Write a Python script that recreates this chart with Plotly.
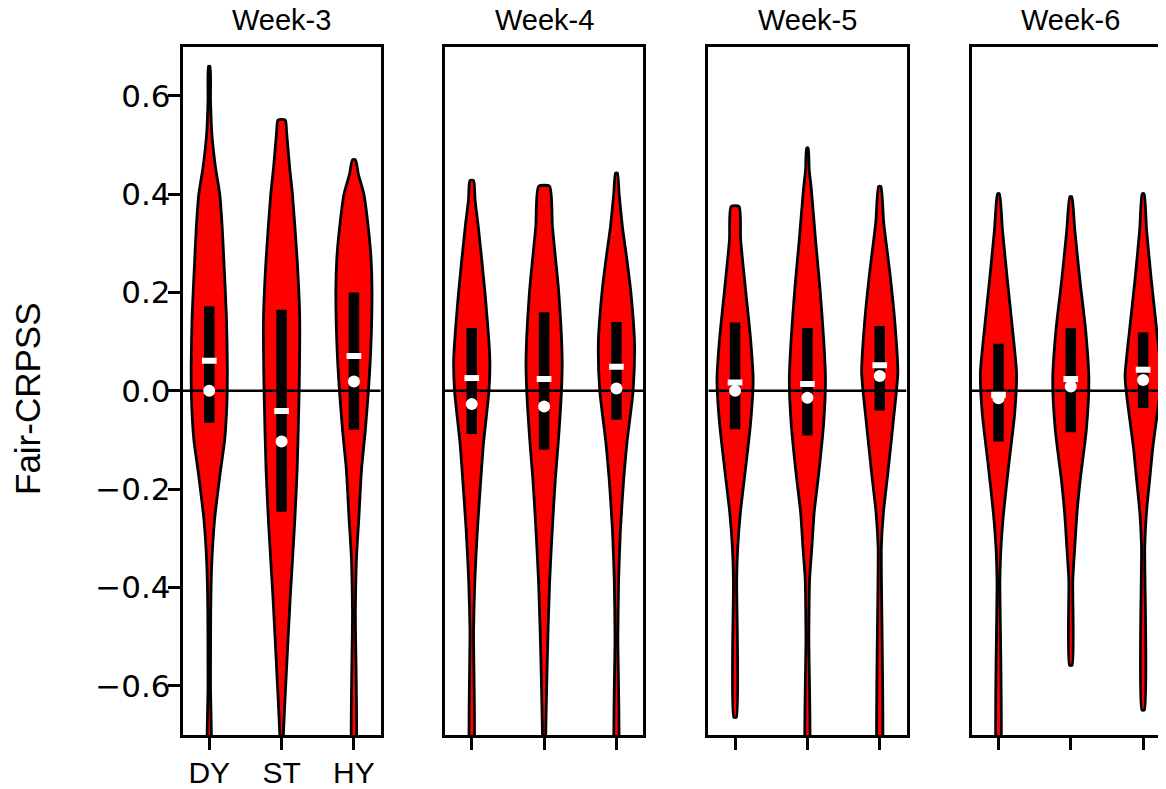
import plotly.graph_objects as go

# ---------------- data ----------------
WEEKS = ["Week-3", "Week-4", "Week-5", "Week-6"]
MODELS = ["DY", "ST", "HY"]
POSITIONS = [1, 2, 3]

Y_TICKS = [-0.6, -0.4, -0.2, 0.0, 0.2, 0.4, 0.6]
Y_TICK_TEXT = ["\u22120.6", "\u22120.4", "\u22120.2", "0.0", "0.2", "0.4", "0.6"]

# inter-quartile bar (upper / lower), mean and median, per week -> [DY, ST, HY]
Q3 = {
    "Week-3": [0.172, 0.165, 0.200],
    "Week-4": [0.128, 0.160, 0.140],
    "Week-5": [0.139, 0.128, 0.132],
    "Week-6": [0.096, 0.128, 0.119],
}
Q1 = {
    "Week-3": [-0.065, -0.246, -0.079],
    "Week-4": [-0.088, -0.120, -0.059],
    "Week-5": [-0.078, -0.091, -0.040],
    "Week-6": [-0.103, -0.084, -0.035],
}
MEAN = {
    "Week-3": [0.061, -0.041, 0.071],
    "Week-4": [0.026, 0.024, 0.049],
    "Week-5": [0.017, 0.014, 0.052],
    "Week-6": [-0.008, 0.024, 0.043],
}
MEDIAN = {
    "Week-3": [0.000, -0.103, 0.019],
    "Week-4": [-0.027, -0.032, 0.005],
    "Week-5": [0.000, -0.014, 0.030],
    "Week-6": [-0.015, 0.009, 0.022],
}

# violin outlines: value levels (top -> bottom) and relative density (max = 1)
W3_DY_Y = [0.66, 0.59, 0.525, 0.456, 0.4, 0.33, 0.27, 0.15, 0.05, -0.03, -0.1, -0.16, -0.26, -0.35, -0.45, -0.6, -0.8]
W3_DY_D = [0.04, 0.07, 0.14, 0.34, 0.58, 0.72, 0.80, 0.95, 1.00, 0.97, 0.85, 0.63, 0.30, 0.14, 0.08, 0.07, 0.07]
W3_ST_Y = [0.551, 0.525, 0.456, 0.4, 0.267, 0.15, 0.0, -0.16, -0.27, -0.425, -0.59, -0.7, -0.8]
W3_ST_D = [0.20, 0.28, 0.44, 0.60, 0.86, 1.00, 0.97, 0.86, 0.72, 0.47, 0.24, 0.10, 0.06]
W3_HY_Y = [0.47, 0.44, 0.4, 0.33, 0.267, 0.2, 0.083, 0.0, -0.08, -0.16, -0.26, -0.34, -0.45, -0.8]
W3_HY_D = [0.08, 0.25, 0.55, 0.80, 0.95, 1.00, 0.93, 0.80, 0.63, 0.42, 0.27, 0.14, 0.08, 0.07]

W4_DY_Y = [0.428, 0.389, 0.334, 0.2, 0.063, 0.0, -0.106, -0.18, -0.283, -0.385, -0.486, -0.8]
W4_DY_D = [0.10, 0.18, 0.36, 0.73, 1.00, 0.95, 0.65, 0.50, 0.31, 0.17, 0.10, 0.07]
W4_ST_Y = [0.416, 0.334, 0.2, 0.063, 0.0, -0.106, -0.18, -0.283, -0.385, -0.486, -0.59, -0.7, -0.8]
W4_ST_D = [0.30, 0.46, 0.81, 1.00, 0.96, 0.78, 0.62, 0.45, 0.31, 0.22, 0.15, 0.09, 0.07]
W4_HY_Y = [0.443, 0.4, 0.334, 0.267, 0.2, 0.097, 0.0, -0.106, -0.18, -0.283, -0.385, -0.5, -0.8]
W4_HY_D = [0.05, 0.15, 0.33, 0.58, 0.80, 1.00, 0.92, 0.58, 0.40, 0.22, 0.12, 0.08, 0.07]

W5_DY_Y = [0.375, 0.307, 0.206, 0.104, 0.022, -0.065, -0.167, -0.249, -0.317, -0.385, -0.664]
W5_DY_D = [0.22, 0.31, 0.58, 0.86, 1.00, 0.86, 0.55, 0.29, 0.15, 0.09, 0.07]
W5_ST_Y = [0.494, 0.45, 0.409, 0.307, 0.206, 0.104, 0.022, -0.065, -0.167, -0.249, -0.317, -0.385, -0.5, -0.8]
W5_ST_D = [0.04, 0.10, 0.22, 0.45, 0.70, 0.90, 1.00, 0.90, 0.63, 0.37, 0.25, 0.12, 0.08, 0.07]
W5_HY_Y = [0.416, 0.342, 0.24, 0.138, 0.037, -0.065, -0.167, -0.249, -0.317, -0.8]
W5_HY_D = [0.06, 0.22, 0.56, 0.84, 1.00, 0.74, 0.45, 0.20, 0.09, 0.07]

W6_DY_Y = [0.401, 0.328, 0.226, 0.124, 0.036, -0.045, -0.147, -0.249, -0.317, -0.385, -0.8]
W6_DY_D = [0.05, 0.22, 0.49, 0.78, 1.00, 0.90, 0.58, 0.28, 0.14, 0.08, 0.07]
W6_ST_Y = [0.395, 0.328, 0.226, 0.124, 0.022, -0.079, -0.181, -0.249, -0.317, -0.385, -0.558]
W6_ST_D = [0.05, 0.22, 0.50, 0.82, 1.00, 0.86, 0.52, 0.34, 0.22, 0.11, 0.07]
W6_HY_Y = [0.401, 0.328, 0.226, 0.124, 0.03, -0.012, -0.114, -0.181, -0.249, -0.317, -0.649]
W6_HY_D = [0.05, 0.19, 0.45, 0.75, 1.00, 0.90, 0.54, 0.36, 0.18, 0.09, 0.07]

PROFILES = {
    "Week-3": [(W3_DY_Y, W3_DY_D), (W3_ST_Y, W3_ST_D), (W3_HY_Y, W3_HY_D)],
    "Week-4": [(W4_DY_Y, W4_DY_D), (W4_ST_Y, W4_ST_D), (W4_HY_Y, W4_HY_D)],
    "Week-5": [(W5_DY_Y, W5_DY_D), (W5_ST_Y, W5_ST_D), (W5_HY_Y, W5_HY_D)],
    "Week-6": [(W6_DY_Y, W6_DY_D), (W6_ST_Y, W6_ST_D), (W6_HY_Y, W6_HY_D)],
}

# ---------------- layout / style ----------------
PAGE_W, PAGE_H = 1166, 789
OFF = 8                    # default page margin in front of the figure div
W, H = PAGE_W - OFF, PAGE_H - OFF
HALF_WIDTH = 0.25          # violin max half-width in category units
PANEL_LEFT_PX = [182.5, 445.0, 708.3, 971.7]   # page pixels
PANEL_W_PX = 198.2
TOP_PX, BOTTOM_PX = 46.7, 735.0
X_MIN, X_MAX = 0.63, 3.37
UNITS_PER_PX = (X_MAX - X_MIN) / PANEL_W_PX

RED = "#ff0000"
FONT = "Liberation Sans, Arial, sans-serif"
TICK_FONT = "DejaVu Sans, sans-serif"


def fx(px):
    return (px - OFF) / W


def fy(py):
    return 1 - (py - OFF) / H


fig = go.Figure()

for i, week in enumerate(WEEKS):
    k = "" if i == 0 else str(i + 1)
    xa, ya = "x" + k, "y" + k
    rng_max = X_MAX if i < 3 else X_MIN + (PAGE_W - PANEL_LEFT_PX[i]) * UNITS_PER_PX
    # violin bodies
    for j, (ys, ds) in enumerate(PROFILES[week]):
        p = POSITIONS[j]
        xs = [p + d * HALF_WIDTH for d in ds] + [p - d * HALF_WIDTH for d in reversed(ds)]
        yy = list(ys) + list(reversed(ys))
        xs.append(xs[0])
        yy.append(yy[0])
        fig.add_trace(go.Scatter(
            x=xs, y=yy, xaxis=xa, yaxis=ya, mode="lines", fill="toself",
            fillcolor=RED, line=dict(color="black", width=2.8, shape="spline", smoothing=0.6),
            hoverinfo="skip", showlegend=False))
    # inter-quartile bars
    for j in range(3):
        fig.add_trace(go.Scatter(
            x=[POSITIONS[j], POSITIONS[j]], y=[Q1[week][j], Q3[week][j]],
            xaxis=xa, yaxis=ya, mode="lines", line=dict(color="black", width=10.5),
            hoverinfo="skip", showlegend=False))
    # zero reference line
    fig.add_trace(go.Scatter(
        x=[X_MIN, rng_max], y=[0, 0], xaxis=xa, yaxis=ya, mode="lines",
        line=dict(color="black", width=2.5), hoverinfo="skip", showlegend=False))
    # means (white dash)
    fig.add_trace(go.Scatter(
        x=POSITIONS, y=MEAN[week], xaxis=xa, yaxis=ya, mode="markers",
        marker=dict(symbol="line-ew", size=10.5, line=dict(color="white", width=6)),
        hoverinfo="skip", showlegend=False))
    # medians (white dot)
    fig.add_trace(go.Scatter(
        x=POSITIONS, y=MEDIAN[week], xaxis=xa, yaxis=ya, mode="markers",
        marker=dict(symbol="circle", size=12, color="white", line=dict(width=0)),
        hoverinfo="skip", showlegend=False))

    left = fx(PANEL_LEFT_PX[i])
    right = min(1.0, fx(PANEL_LEFT_PX[i] + PANEL_W_PX))
    fig.update_layout(**{
        "xaxis" + k: dict(
            domain=[left, right], range=[X_MIN, rng_max], anchor=ya,
            showline=True, linecolor="black", linewidth=2.5, mirror=True,
            ticks="outside", ticklen=12, tickwidth=2.5, tickcolor="black",
            tickvals=POSITIONS, ticktext=MODELS, showticklabels=(i == 0),
            ticklabelstandoff=-3,
            tickfont=dict(family=FONT, size=30, color="black"),
            showgrid=False, zeroline=False, fixedrange=True),
        "yaxis" + k: dict(
            domain=[fy(BOTTOM_PX), fy(TOP_PX)], range=[-0.7, 0.7], anchor=xa,
            showline=True, linecolor="black", linewidth=2.5, mirror=(i < 3),
            ticks="outside" if i == 0 else "", ticklen=12, tickwidth=2.5, tickcolor="black",
            tickvals=Y_TICKS, ticktext=Y_TICK_TEXT, showticklabels=(i == 0),
            ticklabelstandoff=-9,
            tickfont=dict(family=TICK_FONT, size=31, color="black"),
            showgrid=False, zeroline=False, fixedrange=True),
    })
    fig.add_annotation(
        text=week, xref="paper", yref="paper",
        x=fx(PANEL_LEFT_PX[i] + PANEL_W_PX / 2), y=fy(20),
        xanchor="center", yanchor="middle", showarrow=False,
        font=dict(family=FONT, size=29, color="black"))

fig.add_annotation(
    text="Fair-CRPSS", xref="paper", yref="paper", x=fx(28), y=fy(399),
    xanchor="center", yanchor="middle", textangle=-90, showarrow=False,
    font=dict(family=FONT, size=35, color="black"))

fig.update_layout(
    width=W, height=H, margin=dict(l=0, r=0, t=0, b=0, autoexpand=False),
    paper_bgcolor="white", plot_bgcolor="white", showlegend=False,
    template="none")

fig.write_html("out.html")
